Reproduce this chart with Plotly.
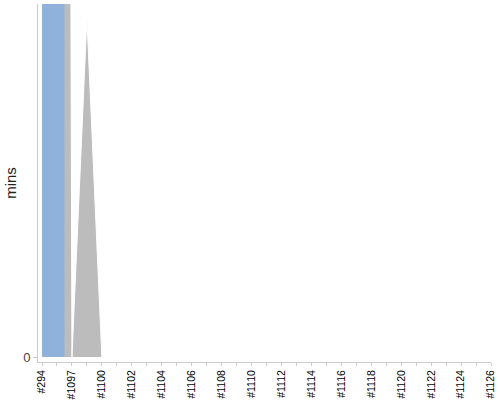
import plotly.graph_objects as go

builds = ["#294", "#1096", "#1097", "#1099"] + [f"#{n}" for n in range(1100, 1127)]

# minutes per build, two stacked series (blue one is far off the chart)
blue_mins = [300, 300] + [0] * 29
gray_mins = [300, 300, 0, 19.2] + [0] * 27

x_idx = list(range(len(builds)))
y_top = 20
y_bottom = -y_top * 5 / 353

fig = go.Figure()
fig.add_trace(go.Scatter(
    x=x_idx, y=gray_mins, mode="lines", fill="tozeroy",
    fillcolor="#bcbcbc", line=dict(color="#ffffff", width=1),
    hoverinfo="skip",
))
fig.add_trace(go.Scatter(
    x=x_idx, y=blue_mins, mode="lines", fill="tozeroy",
    fillcolor="#8fb1da", line=dict(width=0, shape="hvh"),
    hoverinfo="skip",
))

fig.update_layout(
    width=500, height=400,
    margin=dict(l=38, r=9, t=4, b=38),
    plot_bgcolor="white", paper_bgcolor="white",
    showlegend=False,
    font=dict(family="Liberation Sans, Arial, sans-serif", color="#000"),
)
fig.update_xaxes(
    range=[-0.267, 30], showgrid=False, zeroline=False, automargin=False,
    showline=True, linecolor="#cccccc", linewidth=1,
    tickvals=x_idx[::2], ticktext=builds[::2],
    tickangle=-90, ticks="outside", ticklen=3, tickcolor="#cccccc",
    tickfont=dict(size=10.5),
    minor=dict(dtick=1, tick0=0, ticks="outside", ticklen=3, tickcolor="#cccccc"),
)
fig.update_yaxes(
    range=[y_bottom, y_top], showgrid=False, zeroline=False, automargin=False,
    showline=True, linecolor="#cccccc", linewidth=1,
    tickvals=[0], ticks="outside", ticklen=4, tickcolor="#cccccc",
    tickfont=dict(size=13, color="#444"),
    title=dict(text="mins", font=dict(size=15, color="#222"), standoff=2),
)

fig.write_html("out.html", config={"displayModeBar": False},
               post_script="document.body.style.margin='0';")
